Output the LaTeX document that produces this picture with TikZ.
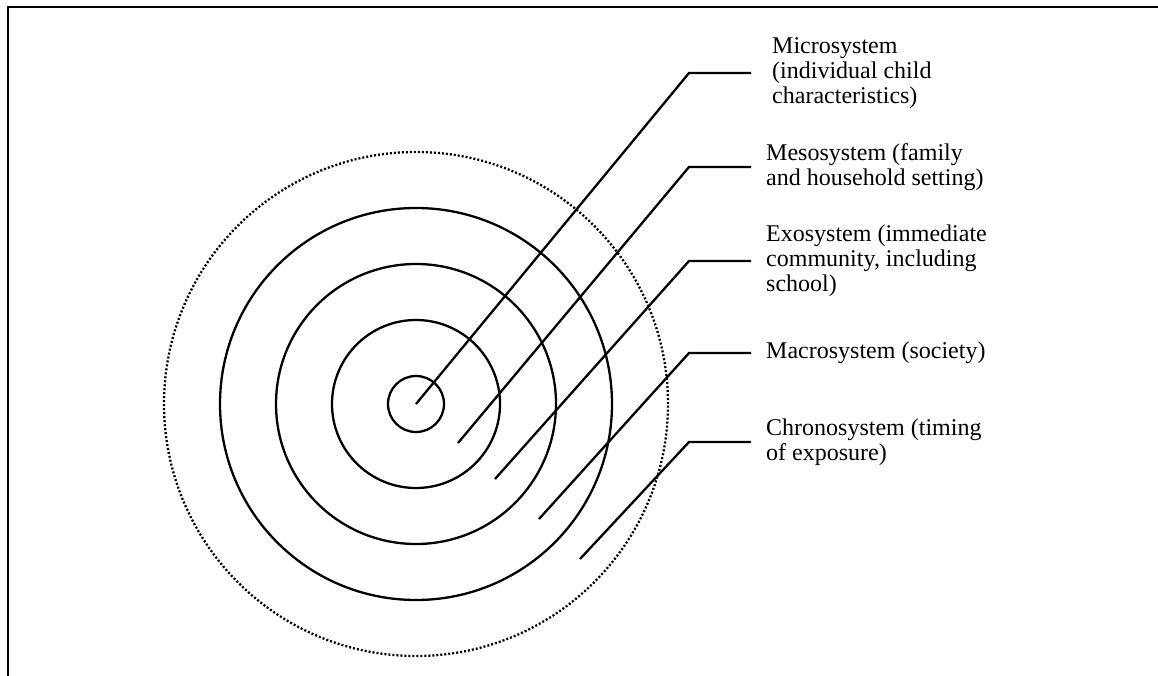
\documentclass[tikz,border=0pt]{standalone}
\usepackage{fontspec}
\setmainfont{Liberation Serif}
\begin{document}
\begin{tikzpicture}[x=1pt,y=-1pt,
  ring/.style={draw=black,line width=2.3pt},
  outerring/.style={draw=black,line width=2.3pt,dash pattern=on 2pt off 2pt},
  leader/.style={draw=black,line width=2.3pt},
  frameline/.style={draw=black,line width=2.3pt},
  lbl/.style={anchor=west,inner ysep=0pt,inner xsep=15pt,align=left,
    font=\fontsize{24}{25}\selectfont}]
\useasboundingbox (0,0) rectangle (1158,676);

% frame
\draw[frameline] (8,676) -- (8,7) -- (1158,7);

% nested systems
\coordinate (ctr) at (416,404);
\draw[ring] (ctr) circle (28pt);
\draw[ring] (ctr) circle (84pt);
\draw[ring] (ctr) circle (140pt);
\draw[ring] (ctr) circle (196pt);
\draw[outerring] (ctr) circle (252pt);

% labels
\node[lbl,inner xsep=21pt] (micro) at (751,73) {Microsystem\\(individual child\\characteristics)};
\node[lbl] (meso) at (751,167) {Mesosystem (family\\and household setting)};
\node[lbl] (exo) at (751,261) {Exosystem (immediate\\community, including\\school)};
\node[lbl] (macro) at (751,353) {Macrosystem (society)};
\node[lbl] (chrono) at (751,442) {Chronosystem (timing\\of exposure)};

% leader lines
\coordinate (s1) at (416,404); \coordinate (k1) at (689,73);
\coordinate (s2) at (458,443); \coordinate (k2) at (689,167);
\coordinate (s3) at (495,479); \coordinate (k3) at (689,261);
\coordinate (s4) at (539,519); \coordinate (k4) at (689,353);
\coordinate (s5) at (580,559); \coordinate (k5) at (689,442);
\draw[leader] (s1) -- (k1) -- (micro.west);
\draw[leader] (s2) -- (k2) -- (meso.west);
\draw[leader] (s3) -- (k3) -- (exo.west);
\draw[leader] (s4) -- (k4) -- (macro.west);
\draw[leader] (s5) -- (k5) -- (chrono.west);
\end{tikzpicture}
\end{document}
